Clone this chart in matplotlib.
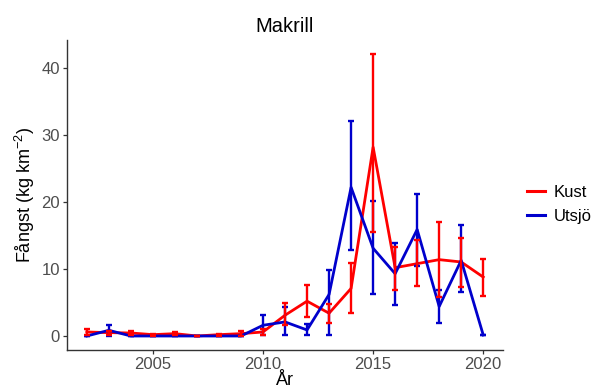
import matplotlib
matplotlib.use("Agg")
import matplotlib.pyplot as plt
import numpy as np

plt.rcParams['font.family'] = ['Liberation Sans', 'DejaVu Sans']
plt.rcParams['mathtext.default'] = 'regular'

# ========================
# Data
# ========================
years = np.arange(2002, 2021)

kust_mean = [0.6, 0.5, 0.45, 0.2, 0.35, 0.0, 0.2, 0.35, 0.6,
             3.1, 5.2, 3.4, 7.1, 28.2, 10.2, 10.8, 11.4, 11.05, 8.8]
kust_low = [0.2, 0.2, 0.15, 0.05, 0.15, 0.0, 0.05, 0.0, 0.2,
            1.6, 2.9, 1.9, 3.4, 15.5, 6.9, 7.5, 5.8, 7.3, 5.95]
kust_high = [1.0, 0.8, 0.75, 0.35, 0.55, 0.0, 0.35, 0.7, 1.0,
             4.9, 7.6, 4.8, 10.9, 42.1, 13.3, 14.3, 17.0, 14.6, 11.55]

utsjo_mean = [0.0, 0.85, 0.0, 0.0, 0.0, 0.0, 0.0, 0.0, 1.6,
              2.1, 0.9, 6.2, 22.2, 13.1, 9.3, 15.9, 4.4, 11.3, 0.15]
utsjo_low = [0.0, 0.0, 0.0, 0.0, 0.0, 0.0, 0.0, 0.0, 0.1,
             0.1, 0.1, 0.1, 12.9, 6.2, 4.6, 10.5, 2.0, 6.5, 0.15]
utsjo_high = [0.0, 1.7, 0.0, 0.0, 0.0, 0.0, 0.0, 0.0, 3.1,
              4.3, 1.8, 9.8, 32.1, 20.2, 13.9, 21.2, 6.8, 16.5, 0.15]

RED = "#FF0000"
BLUE = "#0000CC"

# ========================
# Plot
# ========================
fig = plt.figure(figsize=(6.06, 3.92), dpi=100)
ax = fig.add_axes([0.1106, 0.107, 0.7195, 0.791])

ax.plot(years, kust_mean, color=RED, lw=2.0, label="Kust", zorder=2)
ax.plot(years, utsjo_mean, color=BLUE, lw=2.0, label="Utsjö", zorder=3)


def draw_err(mean, low, high, color, z):
    mean = np.array(mean)
    yerr = [mean - np.array(low), np.array(high) - mean]
    ax.errorbar(years, mean, yerr=yerr, fmt='none', ecolor=color,
                elinewidth=1.7, capsize=2.4, capthick=1.7, zorder=z)


draw_err(utsjo_mean, utsjo_low, utsjo_high, BLUE, 4)
draw_err(kust_mean, kust_low, kust_high, RED, 5)

ax.set_xlim(2001.1, 2020.9)
ax.set_ylim(-2.1, 44.2)
ax.set_xticks([2005, 2010, 2015, 2020])
ax.set_yticks([0, 10, 20, 30, 40])

for side in ["top", "right"]:
    ax.spines[side].set_visible(False)
for side in ["left", "bottom"]:
    ax.spines[side].set_color("#333333")
    ax.spines[side].set_linewidth(1.0)
ax.tick_params(colors="#333333", labelcolor="#4D4D4D", labelsize=12,
               length=3, width=0.9, pad=2)

ax.set_title("Makrill", fontsize=14.5, pad=6)
ax.set_xlabel("År", fontsize=13, labelpad=0)
ax.set_ylabel("Fångst (kg km$^{-2}$)", fontsize=13, labelpad=3)

leg = ax.legend(loc="center left", bbox_to_anchor=(1.02, 0.47), frameon=False,
                fontsize=12, handlelength=1.1, handletextpad=0.5,
                labelspacing=0.55)
for line in leg.get_lines():
    line.set_linewidth(2.2)

fig.savefig("out.png", dpi=100)
